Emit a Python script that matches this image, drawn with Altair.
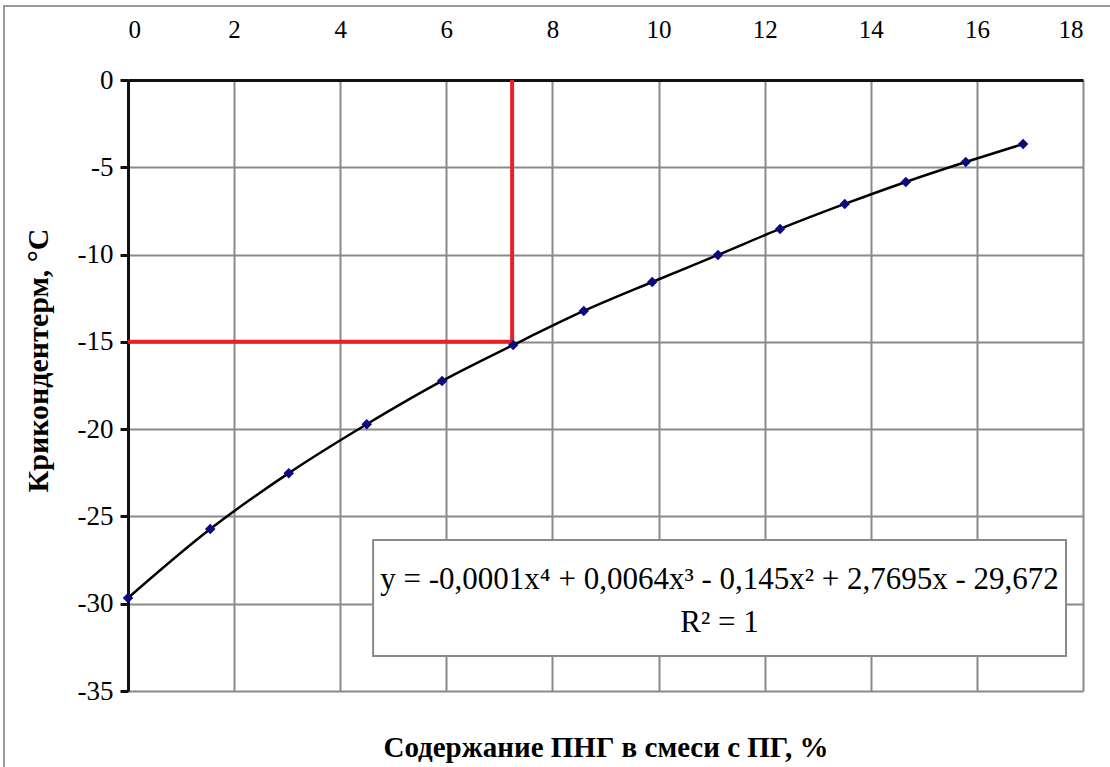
import altair as alt
import pandas as pd

# PNG content in the mixture, % and the resulting cricondentherm, °C
content = [0.0, 1.55, 3.03, 4.50, 5.92, 7.26, 8.59, 9.88, 11.12, 12.29, 13.51, 14.66, 15.79, 16.87]
cricondentherm = [-29.67, -25.72, -22.52, -19.72, -17.24, -15.18, -13.23, -11.57, -10.02, -8.53, -7.10, -5.84, -4.70, -3.67]

# reading of the chart at -15 °C
target_temp = -15.0
target_content = 7.24

x_ticks = [0, 2, 4, 6, 8, 10, 12, 14, 16, 18]
y_ticks = [0, -5, -10, -15, -20, -25, -30, -35]

equation = "y = -0,0001x⁴ + 0,0064x³ - 0,145x² + 2,7695x - 29,672"
r_squared = "R² = 1"

df = pd.DataFrame({"x": content, "y": cricondentherm})

FONT = "Liberation Serif"
W, H = 955, 611

x_scale = alt.Scale(domain=[0, 18], nice=False, zero=False)
y_scale = alt.Scale(domain=[-35, 0], nice=False, zero=False)

x_axis = alt.Axis(
    orient="top", values=x_ticks, ticks=False, labelPadding=38,
    labelFont=FONT, labelFontSize=25, labelColor="black",
    grid=True, domain=True,
    title="Содержание ПНГ в смеси с ПГ, %",
    titleX=W / 2, titleY=667, titleBaseline="middle", titleAlign="center",
)
# plain hyphen for the negative tick labels
y_axis = alt.Axis(
    values=y_ticks, ticks=True, tickSize=8, tickColor="#111111", tickWidth=3,
    labelFont=FONT, labelFontSize=27, labelColor="black",
    labelPadding=7, grid=True, domain=True,
    labelExpr="'' + datum.value",
    title="Крикондентерм, °С",
    titleX=-90, titleY=280, titleBaseline="middle", titleAlign="center", titleAngle=-90,
)

base = alt.Chart(df)

# outer frame of the figure
frame = alt.Chart(pd.DataFrame({"a": [0]})).mark_rect(
    fill=None, stroke="#9a9a9a", strokeWidth=2
).encode(
    x=alt.value(-124), x2=alt.value(1010), y=alt.value(-74), y2=alt.value(720)
)

# axes and grid
axes = base.mark_point(opacity=0).encode(
    x=alt.X("x:Q", scale=x_scale, axis=x_axis),
    y=alt.Y("y:Q", scale=y_scale, axis=y_axis),
)

# trendline equation box
box_df = pd.DataFrame({"x1": [4.62], "x2": [17.68], "y1": [-26.35], "y2": [-32.99]})
box = alt.Chart(box_df).mark_rect(fill="white", stroke="#8a8a8a", strokeWidth=2).encode(
    x=alt.X("x1:Q", scale=x_scale), x2="x2:Q",
    y=alt.Y("y1:Q", scale=y_scale), y2="y2:Q",
)
text_df = pd.DataFrame({"x": [11.15, 11.15], "y": [-28.64, -31.10], "t": [equation, r_squared]})
box_text = alt.Chart(text_df).mark_text(
    font=FONT, fontSize=31, color="black", align="center", baseline="middle"
).encode(
    x=alt.X("x:Q", scale=x_scale), y=alt.Y("y:Q", scale=y_scale), text="t:N"
)

# red guide lines to the -15 °C reading
guide_h = alt.Chart(pd.DataFrame({"x1": [0.0], "x2": [target_content], "y": [target_temp]})).mark_rule(
    color="#e8202a", strokeWidth=4
).encode(x=alt.X("x1:Q", scale=x_scale), x2="x2:Q", y=alt.Y("y:Q", scale=y_scale))
guide_v = alt.Chart(pd.DataFrame({"x": [target_content], "y1": [0.0], "y2": [target_temp]})).mark_rule(
    color="#e8202a", strokeWidth=4
).encode(x=alt.X("x:Q", scale=x_scale), y=alt.Y("y1:Q", scale=y_scale), y2="y2:Q")

curve = base.mark_line(color="black", strokeWidth=2.5, interpolate="monotone").encode(
    x=alt.X("x:Q", scale=x_scale), y=alt.Y("y:Q", scale=y_scale)
)
points = base.mark_point(shape="diamond", filled=True, color="#0a0a80", size=110, opacity=1).encode(
    x=alt.X("x:Q", scale=x_scale), y=alt.Y("y:Q", scale=y_scale)
)

chart = alt.layer(frame, axes, box, box_text, guide_h, guide_v, curve, points).properties(
    width=W, height=H,
    autosize=alt.AutoSizeParams(type="none"),
    padding={"left": 128, "top": 80, "right": 27, "bottom": 76},
    background="white",
).configure_view(
    stroke=None
).configure_axis(
    titleFont=FONT, titleFontSize=29, titleFontWeight="bold", titleColor="black",
    gridColor="#8a8a8a", gridWidth=2,
    domainColor="#111111", domainWidth=3,
).configure_axisY(titleFontSize=30)

chart.save("out.html", embed_options={"renderer": "svg", "actions": False})
